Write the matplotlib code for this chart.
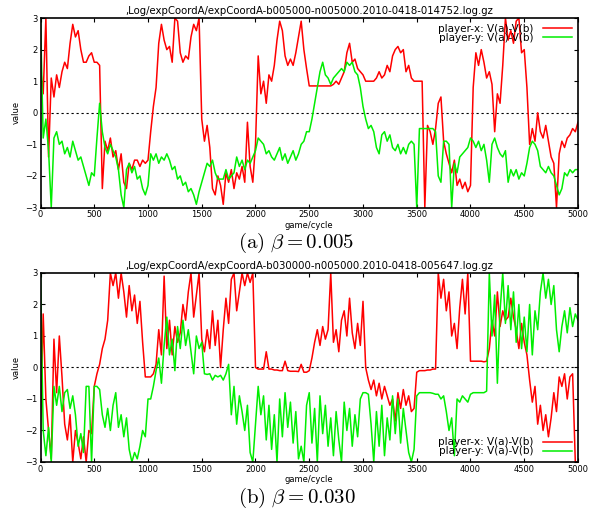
import numpy as np
import matplotlib
matplotlib.use("Agg")
import matplotlib.pyplot as plt

plt.rcParams['mathtext.fontset'] = 'cm'
plt.rcParams['font.family'] = ['DejaVu Sans']

# sampled every 25 game cycles, 0..5000
cycles = np.arange(0, 5001, 25)

titles = [",Log/expCoordA/expCoordA-b005000-n005000.2010-0418-014752.log.gz",
          ",Log/expCoordA/expCoordA-b030000-n005000.2010-0418-005647.log.gz"]
captions = [r"$\mathrm{(a)}\ \beta = 0.005$", r"$\mathrm{(b)}\ \beta = 0.030$"]
labels = ["player-x: V(a)-V(b)", "player-y: V(a)-V(b)"]
yticks = [-3, -2, -1, 0, 1, 2, 3]
xticks = [0, 500, 1000, 1500, 2000, 2500, 3000, 3500, 4000, 4500, 5000]

# beta = 0.005
a_x = [1.4, 0.6, 3.0, -1.4, 1.1, 0.5, 1.2, 0.8, 1.3, 1.6, 1.4, 2.2, 2.8, 2.4, 2.6, 2.0, 1.6, 1.6, 1.8, 1.9,
       1.6, 1.6, 1.5, -2.4, -0.9, -1.2, -0.8, -1.4, -1.2, -1.8, -1.3, -2.2, -2.4, -1.6, -1.8, -1.5, -1.5, -1.7, -1.5, -1.6,
       -1.5, -0.6, 0.2, 0.8, 2.2, 2.8, 2.3, 2.0, 2.1, 1.6, 3.0, 2.9, 1.9, 1.6, 1.8, 1.7, 2.4, 2.8, 2.6, 3.0,
       -0.2, -0.9, -0.4, -1.1, -2.4, -2.6, -2.0, -2.3, -2.9, -1.9, -2.2, -1.8, -2.4, -1.9, -2.1, -1.7, -2.2, -0.3, -1.7, -2.2,
       -1.0, 1.8, 0.6, 1.0, 0.3, 1.2, 1.0, 1.5, 2.3, 2.9, 2.6, 1.8, 1.5, 1.7, 1.5, 1.9, 2.4, 2.9, 2.0, 1.4,
       0.85, 0.85, 0.85, 0.85, 0.85, 0.85, 0.85, 0.85, 0.85, 0.9, 1.0, 0.9, 1.1, 1.3, 1.9, 2.2, 1.6, 1.7, 1.4, 1.3,
       1.2, 1.0, 1.0, 1.0, 1.0, 1.1, 1.3, 1.1, 1.2, 1.5, 1.3, 1.8, 2.0, 2.1, 1.9, 2.0, 1.3, 1.5, 1.1, 1.0,
       1.0, 1.0, 1.0, -3.0, -0.4, -0.6, -1.0, -0.5, 0.3, 0.5, -0.9, -1.3, -1.6, -1.9, -1.5, -2.3, -2.1, -2.4, -2.2, -2.5,
       -2.3, 0.8, 1.9, 1.5, 2.0, 1.6, 1.1, 1.3, 0.9, -0.6, 0.6, 0.3, 1.5, 3.0, 2.3, 2.6, 2.2, 2.9, 3.0, 1.9,
       2.0, 0.8, -1.0, -0.5, -0.9, 0.0, -0.6, -0.8, -0.4, -0.9, -1.4, -1.6, -3.0, -1.3, -0.9, -1.1, -0.8, -0.7, -0.5, -0.6,
       -0.3]
a_y = [3.0, -0.8, -0.2, -1.2, -3.0, -0.8, -0.6, -1.0, -0.9, -1.3, -1.1, -1.4, -0.9, -1.2, -1.5, -1.4, -1.7, -2.0, -2.3, -1.9,
       -2.0, -0.8, 0.3, -0.6, -1.1, -1.3, -1.0, -1.2, -1.4, -1.8, -2.6, -3.0, -1.8, -1.6, -1.9, -1.7, -2.1, -2.0, -2.4, -2.6,
       -2.3, -1.3, -1.5, -1.3, -1.6, -1.4, -1.5, -1.3, -1.5, -1.8, -1.7, -2.1, -2.0, -2.3, -2.2, -2.5, -2.4, -2.6, -2.9, -2.5,
       -2.2, -1.9, -1.6, -1.7, -1.5, -1.9, -2.1, -2.1, -2.1, -1.8, -2.1, -2.0, -1.9, -1.4, -1.7, -1.5, -1.8, -1.5, -1.6, -1.4,
       -1.2, -0.8, -0.9, -1.0, -1.3, -1.2, -1.4, -1.5, -1.3, -1.1, -1.5, -1.3, -1.6, -1.4, -1.2, -1.5, -1.3, -1.0, -0.9, -0.6,
       -0.6, -0.2, 0.3, 0.8, 1.3, 1.6, 1.2, 1.1, 0.9, 1.1, 1.2, 1.3, 1.4, 1.3, 1.6, 1.5, 1.6, 1.3, 1.2, 0.8,
       0.2, -0.2, -0.5, -0.4, -0.6, -1.1, -1.3, -0.7, -0.6, -0.9, -0.7, -1.1, -1.2, -1.0, -1.3, -1.1, -1.3, -1.0, -0.9, -1.0,
       -3.0, -0.5, -0.5, -0.5, -0.5, -0.5, -0.5, -0.6, -2.0, -2.2, -0.9, -0.9, -1.0, -3.0, -1.6, -1.9, -1.4, -1.3, -1.2, -1.1,
       -0.8, -0.9, -1.1, -0.9, -1.2, -1.0, -1.5, -2.2, -1.0, -0.8, -1.1, -1.3, -1.4, -1.2, -2.2, -1.8, -2.0, -1.8, -2.1, -1.9,
       -2.0, -1.6, -1.1, -0.9, -1.0, -1.2, -1.7, -1.8, -1.9, -1.7, -1.9, -2.0, -2.3, -2.6, -2.4, -1.9, -2.0, -1.8, -1.9, -1.8,
       -1.8]

# beta = 0.030
b_x = [-2.0, 1.7, -1.0, -2.0, -2.9, 0.9, -0.8, 1.0, -0.3, -1.8, -2.3, -1.5, -3.0, -2.0, -2.4, -2.9, -2.2, -3.0, -2.0, -2.1,
       -0.6, -0.2, 0.1, 0.6, 0.9, 1.5, 3.0, 2.6, 3.0, 2.2, 3.0, 2.4, 1.6, 2.6, 1.8, 2.3, 1.4, 2.1, 0.8, -0.3,
       -0.3, -0.3, -0.2, 0.1, 1.2, 0.4, 2.9, 0.6, 1.5, 0.4, 1.3, 0.8, 1.1, 2.0, 1.5, 2.4, 3.0, 1.6, 2.3, 3.0,
       0.9, 0.5, 1.2, 0.6, 1.8, 0.7, 1.5, 0.0, 1.2, 2.2, 1.4, 2.8, 3.0, 1.8, 2.4, 3.0, 2.6, 3.0, 2.7, 3.0,
       0.0, -0.05, -0.05, -0.05, 0.5, -0.05, -0.05, -0.08, -0.08, -0.1, -0.1, 0.2, -0.1, -0.12, -0.12, -0.12, -0.13, 0.1, -0.15, -0.15,
       -0.1, 0.3, 0.8, 1.2, 0.7, 1.3, 0.9, 1.2, 3.0, 0.8, 1.2, 0.5, 1.5, 1.8, 1.0, 2.2, 1.1, 0.6, 1.4, 0.7,
       2.1, 0.0, -0.4, -0.7, -0.4, -0.9, -0.5, -1.0, -0.6, -0.9, -1.2, -1.0, -1.7, -0.8, -1.3, -0.7, -1.2, -0.9, -1.4, -1.3,
       -0.15, -0.1, -0.1, -0.1, -0.08, -0.08, -0.05, -0.05, 3.0, 2.2, 2.8, 1.8, 2.4, 1.0, 1.4, 0.6, 1.9, 2.8, 1.7, 3.0,
       0.2, 0.2, 0.2, 0.2, 0.2, 0.18, 0.2, 0.6, 1.5, 1.0, 2.4, 1.3, 1.8, 1.5, 1.6, 2.2, 1.6, 1.2, 0.6, 1.4,
       0.8, 0.4, -0.4, -1.1, -0.6, -1.8, -1.2, -2.0, -1.5, -2.2, -1.6, -0.8, -1.4, -0.3, -0.6, -0.2, -1.0, -0.3, -0.2, -3.0,
       -3.0]
b_y = [3.0, -2.0, -2.8, -1.9, -3.0, -0.6, -1.2, -0.6, -1.4, -0.8, -0.7, -1.3, -0.9, -1.5, -2.5, -2.1, -2.7, -0.6, -0.6, -3.0,
       -0.6, -0.6, -0.7, -1.5, -1.9, -1.3, -2.0, -1.2, -0.8, -1.9, -1.5, -2.2, -1.6, -2.6, -3.0, -2.7, -2.9, -2.5, -2.0, -2.2,
       -1.0, -1.0, -0.6, -0.1, 0.3, -0.5, 0.7, 1.6, 0.4, 0.9, -0.1, 1.3, 0.6, 1.5, 0.7, 1.2, 0.5, -0.2, 1.0, 0.6,
       0.8, -0.2, -0.22, -0.2, -0.4, -0.25, -0.3, -0.25, -0.4, -0.2, 0.1, -1.5, -0.6, -1.8, -0.9, -1.4, -2.0, -1.2, -2.7, -3.0,
       -1.8, -0.6, -1.5, -0.9, -2.3, -1.2, -2.6, -1.5, -3.0, -1.0, -2.2, -0.8, -1.9, -1.1, -2.4, -1.4, -2.9, -2.5, -3.0, -1.2,
       -0.8, -2.4, -1.3, -3.0, -0.9, -2.1, -1.2, -2.5, -1.6, -2.8, -1.4, -2.3, -3.0, -1.1, -2.0, -1.3, -2.5, -1.5, -2.2, -1.0,
       -0.8, -0.8, -0.85, -1.8, -3.0, -1.4, -2.5, -1.2, -2.8, -1.6, -2.3, -0.9, -2.1, -1.0, -2.4, -1.3, -2.0, -2.7, -3.0, -2.6,
       -0.9, -0.8, -0.8, -0.8, -0.8, -0.8, -0.82, -0.85, -0.85, -1.0, -0.9, -1.4, -2.0, -1.6, -2.8, -1.0, -1.1, -0.9, -1.0, -1.1,
       -0.85, -0.8, -0.8, -0.8, -0.8, -0.8, -0.75, 3.0, 1.0, 2.3, -0.5, 1.8, 3.0, 1.4, 2.6, 1.2, 2.4, 0.8, 2.0, 0.6,
       1.6, 0.5, 2.0, 0.4, 1.8, 1.2, 2.4, 3.0, 2.2, 2.8, 2.0, 2.6, 1.2, 0.5, 1.3, 1.8, 1.1, 1.9, 1.3, 1.7,
       1.5]

series = [(a_x, a_y), (b_x, b_y)]
legend_loc = ["upper right", "lower right"]
# axes boxes in figure fractions: left, bottom, width, height
boxes = [[0.0683, 0.5947, 0.9064, 0.3701], [0.0683, 0.0977, 0.9064, 0.3691]]
caption_y = [0.526, 0.028]

fig = plt.figure(figsize=(5.93, 5.12), dpi=100)

for i in range(2):
    ax = fig.add_axes(boxes[i])
    px, py = series[i]
    ax.plot(cycles, px, color='#ff0000', lw=1.1, label=labels[0])
    ax.plot(cycles, py, color='#00ee00', lw=1.1, label=labels[1])
    ax.axhline(0, color='black', lw=0.8, ls=(0, (2, 2.5)), zorder=0)
    ax.set_xlim(0, 5000)
    ax.set_ylim(-3, 3)
    ax.set_xticks(xticks)
    ax.set_yticks(yticks)
    ax.tick_params(direction='in', length=3, width=0.8, top=True, right=True,
                   labelsize=6, pad=2)
    for s in ax.spines.values():
        s.set_linewidth(1.2)
    ax.set_title(titles[i], fontsize=7.3, pad=3)
    ax.set_xlabel("game/cycle", fontsize=6, labelpad=1)
    ax.set_ylabel("value", fontsize=6, labelpad=3)
    ax.legend(loc=legend_loc[i], frameon=False, fontsize=7.5, markerfirst=False,
              handlelength=2.8, handletextpad=0.9, labelspacing=-0.1,
              borderaxespad=0.15)
    fig.text(0.5, caption_y[i], captions[i], ha='center', va='center', fontsize=15)

fig.savefig("out.png", dpi=100)
